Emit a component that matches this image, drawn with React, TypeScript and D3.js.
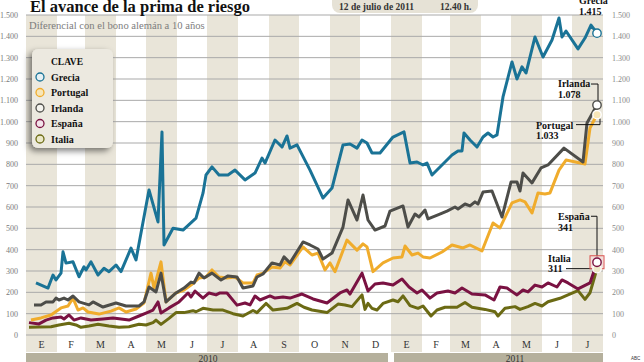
// @ts-nocheck
import React, { useEffect, useRef } from 'react'
import * as d3 from 'd3'

const monthLabels = ['E', 'F', 'M', 'A', 'M', 'J', 'J', 'A', 'S', 'O', 'N', 'D', 'E', 'F', 'M', 'A', 'M', 'J', 'J']
const yearLabels = ['2010', '2011']
const yTicks = [0, 100, 200, 300, 400, 500, 600, 700, 800, 900, 1000, 1100, 1200, 1300, 1400, 1500]
const yTickLabels = ['0', '100', '200', '300', '400', '500', '600', '700', '800', '900', '1.000', '1.100', '1.200', '1.300', '1.400', '1.500']

const grecia = [['2010-01-11', 244], ['2010-01-23', 220], ['2010-01-28', 281], ['2010-01-31', 258], ['2010-02-05', 290], ['2010-02-07', 390], ['2010-02-10', 337], ['2010-02-17', 343], ['2010-02-23', 273], ['2010-02-28', 320], ['2010-03-02', 305], ['2010-03-07', 343], ['2010-03-14', 281], ['2010-03-20', 313], ['2010-03-25', 297], ['2010-04-01', 328], ['2010-04-06', 297], ['2010-04-16', 407], ['2010-04-21', 352], ['2010-05-04', 680], ['2010-05-13', 530], ['2010-05-17', 952], ['2010-05-19', 422], ['2010-05-28', 500], ['2010-06-07', 492], ['2010-06-20', 548], ['2010-06-27', 665], ['2010-06-30', 750], ['2010-07-06', 788], ['2010-07-13', 750], ['2010-07-22', 750], ['2010-07-29', 773], ['2010-08-08', 727], ['2010-08-18', 759], ['2010-08-25', 829], ['2010-08-28', 806], ['2010-09-07', 914], ['2010-09-14', 881], ['2010-09-19', 933], ['2010-09-22', 876], ['2010-09-29', 891], ['2010-10-12', 773], ['2010-10-19', 703], ['2010-10-25', 642], ['2010-11-03', 689], ['2010-11-14', 891], ['2010-11-21', 895], ['2010-11-28', 876], ['2010-12-03', 914], ['2010-12-08', 900], ['2010-12-13', 853], ['2010-12-21', 853], ['2011-01-03', 928], ['2011-01-14', 952], ['2011-01-20', 806], ['2011-01-27', 811], ['2011-02-02', 797], ['2011-02-06', 806], ['2011-02-11', 750], ['2011-02-21', 797], ['2011-03-03', 844], ['2011-03-09', 863], ['2011-03-13', 863], ['2011-03-15', 947], ['2011-03-21', 914], ['2011-03-28', 881], ['2011-04-03', 928], ['2011-04-08', 947], ['2011-04-13', 928], ['2011-04-17', 938], ['2011-04-23', 1116], ['2011-05-02', 1280], ['2011-05-07', 1200], ['2011-05-12', 1257], ['2011-05-16', 1228], ['2011-05-25', 1397], ['2011-06-02', 1303], ['2011-06-11', 1383], ['2011-06-18', 1486], ['2011-06-21', 1397], ['2011-06-25', 1425], ['2011-07-07', 1341], ['2011-07-14', 1392], ['2011-07-20', 1453], ['2011-07-26', 1415]]

const irlanda = [['2010-01-09', 141], ['2010-01-16', 141], ['2010-01-21', 155], ['2010-01-28', 155], ['2010-01-31', 173], ['2010-02-03', 164], ['2010-02-08', 173], ['2010-02-12', 164], ['2010-02-17', 183], ['2010-02-23', 155], ['2010-03-05', 141], ['2010-03-09', 155], ['2010-03-19', 131], ['2010-04-01', 150], ['2010-04-11', 136], ['2010-04-24', 136], ['2010-04-29', 155], ['2010-05-04', 225], ['2010-05-11', 202], ['2010-05-16', 290], ['2010-05-21', 155], ['2010-05-31', 197], ['2010-06-08', 220], ['2010-06-15', 248], ['2010-06-18', 244], ['2010-06-23', 290], ['2010-06-28', 267], ['2010-07-06', 290], ['2010-07-15', 258], ['2010-07-22', 277], ['2010-07-31', 272], ['2010-08-06', 220], ['2010-08-16', 230], ['2010-08-20', 272], ['2010-08-26', 286], ['2010-09-04', 338], ['2010-09-12', 328], ['2010-09-16', 366], ['2010-09-22', 338], ['2010-10-05', 436], ['2010-10-12', 422], ['2010-10-20', 403], ['2010-10-25', 356], ['2010-11-03', 384], ['2010-11-14', 506], ['2010-11-19', 633], ['2010-11-28', 539], ['2010-12-04', 656], ['2010-12-09', 539], ['2010-12-16', 492], ['2010-12-26', 511], ['2010-12-31', 581], ['2011-01-13', 605], ['2011-01-18', 506], ['2011-01-25', 567], ['2011-01-29', 553], ['2011-02-04', 586], ['2011-02-07', 544], ['2011-02-17', 563], ['2011-02-26', 581], ['2011-03-06', 600], ['2011-03-09', 591], ['2011-03-16', 614], ['2011-03-21', 605], ['2011-03-26', 624], ['2011-03-29', 614], ['2011-04-03', 670], ['2011-04-12', 675], ['2011-04-22', 553], ['2011-05-01', 717], ['2011-05-07', 717], ['2011-05-10', 675], ['2011-05-13', 759], ['2011-05-22', 713], ['2011-05-31', 783], ['2011-06-07', 797], ['2011-06-23', 876], ['2011-07-12', 811], ['2011-07-16', 994], ['2011-07-26', 1078]]

const portugal = [['2010-01-06', 70], ['2010-01-16', 80], ['2010-01-26', 94], ['2010-02-05', 127], ['2010-02-12', 136], ['2010-02-17', 173], ['2010-02-22', 117], ['2010-02-27', 127], ['2010-03-04', 108], ['2010-03-15', 98], ['2010-03-27', 112], ['2010-04-04', 127], ['2010-04-11', 108], ['2010-04-21', 122], ['2010-04-29', 150], ['2010-05-06', 290], ['2010-05-09', 220], ['2010-05-16', 343], ['2010-05-21', 155], ['2010-05-31', 197], ['2010-06-08', 211], ['2010-06-15', 234], ['2010-06-23', 267], ['2010-06-30', 272], ['2010-07-06', 305], ['2010-07-13', 272], ['2010-07-21', 267], ['2010-07-29', 272], ['2010-08-06', 244], ['2010-08-16', 244], ['2010-08-20', 281], ['2010-08-26', 290], ['2010-09-04', 319], ['2010-09-12', 314], ['2010-09-17', 343], ['2010-09-22', 328], ['2010-10-05', 413], ['2010-10-14', 375], ['2010-10-20', 384], ['2010-10-27', 305], ['2010-11-01', 338], ['2010-11-06', 297], ['2010-11-18', 445], ['2010-11-28', 398], ['2010-12-04', 427], ['2010-12-08', 413], ['2010-12-14', 297], ['2010-12-24', 338], ['2011-01-03', 361], ['2011-01-12', 366], ['2011-01-15', 417], ['2011-01-22', 375], ['2011-01-28', 384], ['2011-02-02', 366], ['2011-02-09', 361], ['2011-02-21', 389], ['2011-03-03', 422], ['2011-03-14', 408], ['2011-03-21', 422], ['2011-04-02', 394], ['2011-04-13', 525], ['2011-04-20', 502], ['2011-05-02', 619], ['2011-05-10', 633], ['2011-05-15', 624], ['2011-05-22', 572], ['2011-05-28', 666], ['2011-06-04', 661], ['2011-06-09', 666], ['2011-06-18', 773], ['2011-06-25', 820], ['2011-07-14', 802], ['2011-07-19', 970], ['2011-07-26', 1033]]

const espana = [['2010-01-04', 58], ['2010-01-14', 52], ['2010-01-21', 70], ['2010-01-28', 80], ['2010-02-05', 84], ['2010-02-08', 75], ['2010-02-13', 94], ['2010-02-18', 70], ['2010-02-25', 80], ['2010-03-07', 70], ['2010-03-19', 75], ['2010-03-29', 80], ['2010-04-06', 75], ['2010-04-14', 70], ['2010-04-24', 89], ['2010-05-01', 103], ['2010-05-08', 117], ['2010-05-13', 155], ['2010-05-16', 103], ['2010-05-24', 127], ['2010-06-03', 155], ['2010-06-12', 197], ['2010-06-15', 178], ['2010-06-19', 206], ['2010-06-27', 173], ['2010-07-03', 197], ['2010-07-10', 188], ['2010-07-14', 197], ['2010-07-21', 197], ['2010-07-31', 140], ['2010-08-08', 150], ['2010-08-13', 141], ['2010-08-18', 183], ['2010-08-23', 164], ['2010-09-02', 183], ['2010-09-07', 173], ['2010-09-15', 178], ['2010-09-22', 173], ['2010-10-04', 192], ['2010-10-15', 169], ['2010-10-29', 150], ['2010-11-11', 197], ['2010-11-18', 211], ['2010-11-21', 192], ['2010-12-03', 290], ['2010-12-09', 206], ['2010-12-16', 239], ['2010-12-24', 244], ['2011-01-03', 234], ['2011-01-12', 262], ['2011-01-19', 225], ['2011-01-27', 197], ['2011-02-01', 211], ['2011-02-09', 173], ['2011-02-16', 197], ['2011-02-27', 206], ['2011-03-06', 197], ['2011-03-13', 220], ['2011-03-23', 192], ['2011-04-05', 188], ['2011-04-14', 164], ['2011-04-20', 225], ['2011-04-27', 220], ['2011-05-07', 188], ['2011-05-13', 211], ['2011-05-18', 202], ['2011-05-25', 234], ['2011-06-01', 225], ['2011-06-07', 244], ['2011-06-16', 225], ['2011-06-21', 258], ['2011-06-27', 244], ['2011-07-07', 216], ['2011-07-19', 244], ['2011-07-26', 341]]

const italia = [['2010-01-04', 36], ['2010-01-14', 37], ['2010-01-26', 39], ['2010-02-03', 47], ['2010-02-13', 55], ['2010-02-20', 47], ['2010-02-25', 36], ['2010-03-05', 42], ['2010-03-14', 50], ['2010-03-25', 42], ['2010-04-04', 36], ['2010-04-14', 39], ['2010-04-24', 50], ['2010-05-01', 47], ['2010-05-08', 58], ['2010-05-11', 70], ['2010-05-16', 50], ['2010-05-24', 78], ['2010-05-31', 105], ['2010-06-08', 105], ['2010-06-17', 114], ['2010-06-20', 109], ['2010-06-27', 125], ['2010-07-07', 117], ['2010-07-17', 117], ['2010-07-27', 100], ['2010-08-06', 89], ['2010-08-16', 115], ['2010-08-20', 105], ['2010-08-29', 148], ['2010-09-05', 117], ['2010-09-19', 125], ['2010-09-29', 148], ['2010-10-06', 130], ['2010-10-14', 117], ['2010-10-29', 105], ['2010-11-09', 145], ['2010-11-16', 141], ['2010-11-23', 133], ['2010-12-03', 188], ['2010-12-06', 120], ['2010-12-09', 148], ['2010-12-13', 125], ['2010-12-18', 117], ['2010-12-24', 148], ['2011-01-03', 164], ['2011-01-08', 156], ['2011-01-13', 183], ['2011-01-20', 138], ['2011-01-28', 125], ['2011-02-02', 136], ['2011-02-10', 89], ['2011-02-16', 117], ['2011-02-24', 130], ['2011-03-08', 130], ['2011-03-16', 152], ['2011-03-23', 130], ['2011-04-05', 120], ['2011-04-15', 109], ['2011-04-18', 89], ['2011-04-25', 125], ['2011-05-05', 133], ['2011-05-10', 120], ['2011-05-18', 133], ['2011-05-25', 148], ['2011-06-01', 136], ['2011-06-07', 156], ['2011-06-19', 172], ['2011-06-27', 188], ['2011-07-07', 208], ['2011-07-14', 167], ['2011-07-19', 198], ['2011-07-26', 311]]

const parse = d3.timeParse('%Y-%m-%d')
const serif = '"Liberation Serif", "DejaVu Serif", serif'

// drawing order: bottom first
const series = [
    { name: 'Italia', values: italia, color: '#6b6a14', light: '#ebe8c8', last: '311' },
    { name: 'España', values: espana, color: '#7a1242', light: '#f3e3ea', last: '341' },
    { name: 'Portugal', values: portugal, color: '#f0ac2c', light: '#f7e6b8', last: '1.033' },
    { name: 'Irlanda', values: irlanda, color: '#4d4d49', light: '#f4f3ee', last: '1.078' },
    { name: 'Grecia', values: grecia, color: '#1a7396', light: '#e6f1f5', last: '1.415' },
]
const legendOrder = ['Grecia', 'Portugal', 'Irlanda', 'España', 'Italia']

const App = () => {
    const ref = useRef(null)

    useEffect(() => {
        const left = 26, right = 603, top = 15, bottom = 335

        const x = d3.scaleTime([parse('2010-01-01'), parse('2011-08-01')], [left, right])
        const y = d3.scaleLinear([0, 1500], [bottom, top])

        const svg = d3.select(ref.current)
        svg.selectAll('*').remove()

        const defs = svg.append('defs')
        const f = defs.append('filter').attr('id', 'shadow').attr('x', '-30%').attr('y', '-30%').attr('width', '160%').attr('height', '160%')
        f.append('feDropShadow').attr('dx', -3).attr('dy', 3).attr('stdDeviation', 3).attr('flood-color', '#000').attr('flood-opacity', 0.5)

        // month bands
        const monthStarts = d3.timeMonth.range(parse('2010-01-01'), parse('2011-08-01'))
        svg.append('g').selectAll('rect').data(monthStarts).join('rect')
            .attr('x', d => x(d))
            .attr('y', top)
            .attr('width', d => x(d3.timeMonth.offset(d, 1)) - x(d))
            .attr('height', 352 - top)
            .attr('fill', (d, i) => i % 2 === 0 ? '#e9e5d9' : '#fff')

        // month letters
        svg.append('g').selectAll('text').data(monthStarts).join('text')
            .attr('x', d => (x(d) + x(d3.timeMonth.offset(d, 1))) / 2)
            .attr('y', 348)
            .attr('text-anchor', 'middle')
            .attr('font-family', serif)
            .attr('font-size', 10)
            .attr('fill', '#333')
            .text((d, i) => monthLabels[i])

        // year bars
        const yearSpans = [[parse('2010-01-01'), parse('2011-01-01')], [parse('2011-01-01'), parse('2011-08-01')]]
        const yb = svg.append('g')
        yearSpans.forEach((s, i) => {
            const x0 = x(s[0]) + (i === 0 ? 0 : 3)
            const x1 = x(s[1]) - (i === 0 ? 3 : 0)
            yb.append('rect').attr('x', x0).attr('y', 353).attr('width', x1 - x0).attr('height', 12).attr('fill', '#b5b09c')
        })
        yb.append('text').attr('x', x(parse('2010-07-02'))).attr('y', 361.5).attr('text-anchor', 'middle')
            .attr('font-family', serif).attr('font-size', 9.5).attr('fill', '#333').text(yearLabels[0])
        yb.append('text').attr('x', x(parse('2011-05-05'))).attr('y', 361.5).attr('text-anchor', 'middle')
            .attr('font-family', serif).attr('font-size', 9.5).attr('fill', '#333').text(yearLabels[1])

        // grid lines + labels on both sides
        const grid = svg.append('g')
        grid.selectAll('line').data(yTicks).join('line')
            .attr('x1', left).attr('x2', right)
            .attr('y1', d => y(d)).attr('y2', d => y(d))
            .attr('stroke', '#a9a9a9').attr('stroke-width', 1)
        grid.selectAll('text.l').data(yTicks).join('text').attr('class', 'l')
            .attr('x', 18).attr('y', d => y(d) + 3)
            .attr('text-anchor', 'end')
            .attr('font-family', serif).attr('font-size', 8).attr('fill', '#7a7a7a')
            .text((d, i) => yTickLabels[i])
        grid.selectAll('text.r').data(yTicks).join('text').attr('class', 'r')
            .attr('x', 612).attr('y', d => y(d) + 3)
            .attr('font-family', serif).attr('font-size', 8).attr('fill', '#8a8a8a')
            .text((d, i) => yTickLabels[i])

        // lines
        const line = d3.line()
            .x(d => x(parse(d[0])))
            .y(d => y(d[1]))
        series.forEach(s => {
            svg.append('path')
                .attr('fill', 'none')
                .attr('stroke', s.color)
                .attr('stroke-width', 3)
                .attr('stroke-linejoin', 'round')
                .attr('d', line(s.values))
        })

        // title block
        svg.append('text').attr('x', 30).attr('y', 12)
            .attr('font-family', serif).attr('font-weight', 'bold').attr('font-size', 16.5).attr('fill', '#111')
            .text('El avance de la prima de riesgo')
        svg.append('text').attr('x', 29).attr('y', 29)
            .attr('font-family', serif).attr('font-size', 10.6).attr('fill', '#7d7d7d')
            .text('Diferencial con el bono alemán a 10 años')

        svg.append('rect').attr('x', 332).attr('y', -8).attr('width', 146).attr('height', 21).attr('rx', 8)
            .attr('fill', '#e6e2d6')
        svg.append('text').attr('x', 339).attr('y', 10)
            .attr('font-family', serif).attr('font-weight', 'bold').attr('font-size', 9.5).attr('fill', '#333')
            .text('12 de julio de 2011')
        svg.append('text').attr('x', 440).attr('y', 10)
            .attr('font-family', serif).attr('font-weight', 'bold').attr('font-size', 9.5).attr('fill', '#333')
            .text('12.40 h.')

        // legend
        const lg = svg.append('g')
        lg.append('rect').attr('x', 32).attr('y', 49).attr('width', 81).attr('height', 99).attr('rx', 6)
            .attr('fill', '#ece9e0').attr('filter', 'url(#shadow)')
        lg.append('text').attr('x', 51).attr('y', 65)
            .attr('font-family', serif).attr('font-weight', 'bold').attr('font-size', 9.5).attr('fill', '#111')
            .text('CLAVE')
        legendOrder.forEach((n, i) => {
            const s = series.find(d => d.name === n)
            const cy = 77 + i * 15.5
            lg.append('circle').attr('cx', 40).attr('cy', cy).attr('r', 4)
                .attr('fill', s.light).attr('stroke', s.color).attr('stroke-width', 1.3)
            lg.append('text').attr('x', 51).attr('y', cy + 3.5)
                .attr('font-family', serif).attr('font-weight', 'bold').attr('font-size', 10).attr('fill', '#111')
                .text(n)
        })

        // end annotations (offsets relative to the last point)
        const notes = {
            'Grecia': { tx: -18, ty: -29, path: null },
            'Irlanda': { tx: -39, ty: -18, path: [[-6, -21], [1, -21], [1, -4]] },
            'Portugal': { tx: -61, ty: 14, path: [[-21, 10], [3, 10], [3, 4]] },
            'España': { tx: -39, ty: -42, path: [[-6, -46], [0, -46], [0, -5]] },
            'Italia': { tx: -49, ty: -7, path: [[-31, 0], [-4, 0]] },
        }
        const ann = svg.append('g')
        series.forEach(s => {
            const lastPt = s.values[s.values.length - 1]
            const ex = x(parse(lastPt[0])), ey = y(lastPt[1])
            const n = notes[s.name]
            if (n.path) {
                ann.append('path')
                    .attr('d', d3.line()(n.path.map(p => [ex + p[0], ey + p[1]])))
                    .attr('fill', 'none').attr('stroke', '#111').attr('stroke-width', 1)
            }
            if (s.name === 'España') {
                ann.append('rect').attr('x', ex - 7).attr('y', ey - 6.5).attr('width', 14).attr('height', 13)
                    .attr('fill', '#f6dada').attr('fill-opacity', 0.6).attr('stroke', '#d9534f').attr('stroke-width', 1)
            }
            ann.append('text').attr('x', ex + n.tx).attr('y', ey + n.ty)
                .attr('font-family', serif).attr('font-weight', 'bold').attr('font-size', 10).attr('fill', '#111')
                .text(s.name)
            ann.append('text').attr('x', ex + n.tx).attr('y', ey + n.ty + 10.5)
                .attr('font-family', serif).attr('font-weight', 'bold').attr('font-size', 10).attr('fill', '#111')
                .text(s.last)
        })
        series.forEach(s => {
            const lastPt = s.values[s.values.length - 1]
            ann.append('circle')
                .attr('cx', x(parse(lastPt[0]))).attr('cy', y(lastPt[1])).attr('r', 4.2)
                .attr('fill', s.name === 'Portugal' || s.name === 'Italia' ? s.light : '#fff')
                .attr('stroke', s.name === 'Italia' || s.name === 'Portugal' ? '#fff' : s.color)
                .attr('stroke-width', 1.4)
        })

        svg.append('text').attr('x', 631).attr('y', 360)
            .attr('font-family', '"Liberation Sans", sans-serif').attr('font-size', 4.5).attr('fill', '#333')
            .text('ABC')
    }, [])

    return <svg ref={ref} width={644} height={362}
        style={{ position: 'absolute', top: 0, left: 0, display: 'block', background: '#fff' }} />
}

export default App
